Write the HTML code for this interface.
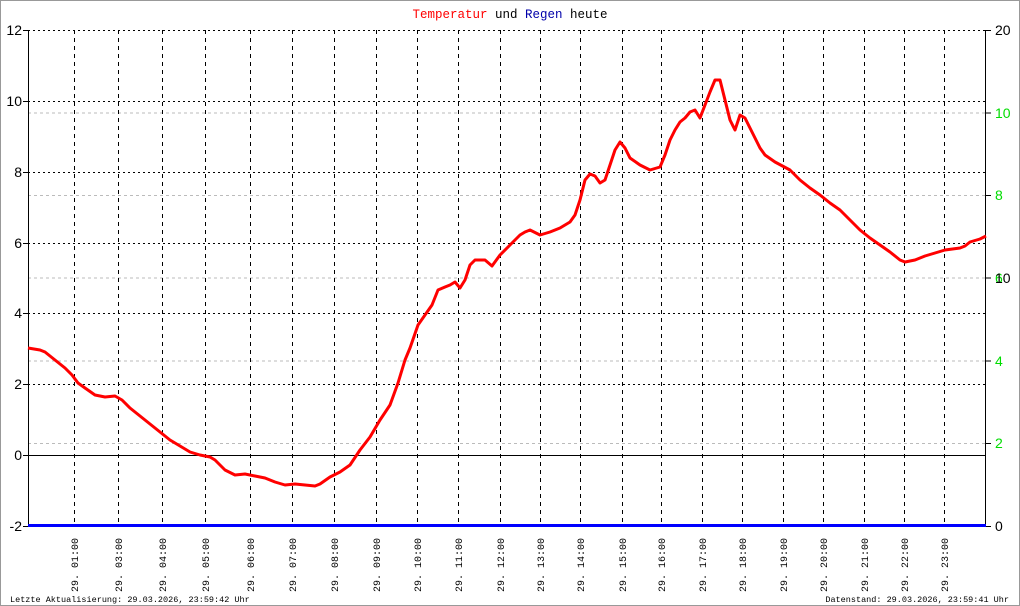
<!DOCTYPE html>
<html><head><meta charset="utf-8"><style>html,body{margin:0;padding:0;background:#fff}svg{display:block}</style></head>
<body>
<svg width="1020" height="606" xmlns="http://www.w3.org/2000/svg" font-family="Liberation Mono, monospace">
<rect x="0.5" y="0.5" width="1019" height="605" fill="#fff" stroke="#999"/>
<text x="510" y="18" text-anchor="middle" font-size="12.5"><tspan fill="#f00">Temperatur</tspan> und <tspan fill="#00a">Regen</tspan> heute</text>
<g stroke="#bbb" stroke-dasharray="3,3" stroke-width="1">
<line x1="28" x2="986" y1="113" y2="113"/><line x1="28" x2="986" y1="195.5" y2="195.5"/><line x1="28" x2="986" y1="278" y2="278"/><line x1="28" x2="986" y1="361" y2="361"/><line x1="28" x2="986" y1="443.5" y2="443.5"/>
</g>
<g stroke="#000" stroke-dasharray="2,3" stroke-width="1">
<line x1="28" x2="986" y1="30.5" y2="30.5"/><line x1="28" x2="986" y1="101.5" y2="101.5"/><line x1="28" x2="986" y1="172.5" y2="172.5"/><line x1="28" x2="986" y1="243.5" y2="243.5"/><line x1="28" x2="986" y1="313.5" y2="313.5"/><line x1="28" x2="986" y1="384.5" y2="384.5"/>
</g>
<g stroke="#000" stroke-dasharray="4,4" stroke-width="1">
<line x1="74.5" x2="74.5" y1="30" y2="526"/><line x1="118.5" x2="118.5" y1="30" y2="526"/><line x1="162.5" x2="162.5" y1="30" y2="526"/><line x1="205.5" x2="205.5" y1="30" y2="526"/><line x1="250.5" x2="250.5" y1="30" y2="526"/><line x1="292.5" x2="292.5" y1="30" y2="526"/><line x1="334.5" x2="334.5" y1="30" y2="526"/><line x1="376.5" x2="376.5" y1="30" y2="526"/><line x1="417.5" x2="417.5" y1="30" y2="526"/><line x1="458.5" x2="458.5" y1="30" y2="526"/><line x1="500.5" x2="500.5" y1="30" y2="526"/><line x1="540.5" x2="540.5" y1="30" y2="526"/><line x1="580.5" x2="580.5" y1="30" y2="526"/><line x1="622.5" x2="622.5" y1="30" y2="526"/><line x1="661.5" x2="661.5" y1="30" y2="526"/><line x1="702.5" x2="702.5" y1="30" y2="526"/><line x1="742.5" x2="742.5" y1="30" y2="526"/><line x1="783.5" x2="783.5" y1="30" y2="526"/><line x1="823.5" x2="823.5" y1="30" y2="526"/><line x1="864.5" x2="864.5" y1="30" y2="526"/><line x1="904.5" x2="904.5" y1="30" y2="526"/><line x1="944.5" x2="944.5" y1="30" y2="526"/>
</g>
<line x1="28" x2="986" y1="455.5" y2="455.5" stroke="#000"/>
<line x1="28.5" x2="28.5" y1="30" y2="527" stroke="#000"/>
<line x1="985.5" x2="985.5" y1="30" y2="527" stroke="#000"/>
<g stroke="#000">
<line x1="23" x2="28" y1="30.5" y2="30.5"/><line x1="23" x2="28" y1="101.5" y2="101.5"/><line x1="23" x2="28" y1="172.5" y2="172.5"/><line x1="23" x2="28" y1="243.5" y2="243.5"/><line x1="23" x2="28" y1="313.5" y2="313.5"/><line x1="23" x2="28" y1="384.5" y2="384.5"/><line x1="23" x2="28" y1="455.5" y2="455.5"/><line x1="23" x2="28" y1="526.5" y2="526.5"/>
<line x1="986" x2="991" y1="30.5" y2="30.5"/><line x1="986" x2="991" y1="113" y2="113"/><line x1="986" x2="991" y1="195.5" y2="195.5"/><line x1="986" x2="991" y1="278" y2="278"/><line x1="986" x2="991" y1="361" y2="361"/><line x1="986" x2="991" y1="443.5" y2="443.5"/><line x1="986" x2="991" y1="526.5" y2="526.5"/>
</g>
<g font-family="Liberation Sans, sans-serif" font-size="14" text-anchor="end">
<text x="22" y="35">12</text><text x="22" y="106">10</text><text x="22" y="177">8</text><text x="22" y="248">6</text><text x="22" y="318">4</text><text x="22" y="389">2</text><text x="22" y="460">0</text><text x="22" y="531">-2</text>
</g>
<g font-family="Liberation Sans, sans-serif" font-size="14" fill="#0d0">
<text x="995" y="118">10</text><text x="995" y="200">8</text><text x="995" y="283">6</text><text x="995" y="366">4</text><text x="995" y="448">2</text>
</g>
<g font-family="Liberation Sans, sans-serif" font-size="14">
<text x="995" y="35">20</text><text x="995" y="283">10</text><text x="995" y="531">0</text>
</g>
<line x1="28" x2="986" y1="525.5" y2="525.5" stroke="#0000ff" stroke-width="3"/>
<polyline fill="none" stroke="#f00" stroke-width="3" stroke-linejoin="round" points="28,348 40,350 45,352 55,360 65,368 72,375 78,383 85,388 95,395 105,397 115,396 122,400 130,408 140,416 150,424 160,432 170,440 180,446 190,452 200,455 210,457 215,460 225,470 235,475 245,474 255,476 265,478 275,482 285,485 295,484 305,485 315,486 320,484 330,477 340,472 350,465 360,450 370,437 380,420 390,405 398,383 405,360 410,348 418,325 425,315 432,305 438,290 445,287 450,285 455,282 460,288 465,280 470,265 475,260 485,260 492,266 500,255 510,245 520,235 525,232 530,230 540,235 550,232 560,228 570,222 575,215 580,200 585,180 590,174 595,176 600,183 605,180 610,165 615,150 620,142 625,148 630,158 640,165 650,170 660,167 665,155 670,140 675,130 680,122 685,118 690,112 695,110 700,118 705,105 710,92 715,80 720,80 725,100 730,120 735,130 740,115 745,118 750,128 755,138 760,148 765,155 775,162 790,170 800,180 810,188 820,195 830,203 840,210 850,220 860,230 870,238 880,245 890,252 900,260 905,262 915,260 925,256 935,253 945,250 960,248 965,246 970,242 980,239 986,236"/>
<g font-size="10" text-anchor="end">
<text transform="translate(78,538) rotate(-90)">29. 01:00</text>
<text transform="translate(122,538) rotate(-90)">29. 03:00</text>
<text transform="translate(166,538) rotate(-90)">29. 04:00</text>
<text transform="translate(209,538) rotate(-90)">29. 05:00</text>
<text transform="translate(254,538) rotate(-90)">29. 06:00</text>
<text transform="translate(296,538) rotate(-90)">29. 07:00</text>
<text transform="translate(338,538) rotate(-90)">29. 08:00</text>
<text transform="translate(380,538) rotate(-90)">29. 09:00</text>
<text transform="translate(421,538) rotate(-90)">29. 10:00</text>
<text transform="translate(462,538) rotate(-90)">29. 11:00</text>
<text transform="translate(504,538) rotate(-90)">29. 12:00</text>
<text transform="translate(544,538) rotate(-90)">29. 13:00</text>
<text transform="translate(584,538) rotate(-90)">29. 14:00</text>
<text transform="translate(626,538) rotate(-90)">29. 15:00</text>
<text transform="translate(665,538) rotate(-90)">29. 16:00</text>
<text transform="translate(706,538) rotate(-90)">29. 17:00</text>
<text transform="translate(746,538) rotate(-90)">29. 18:00</text>
<text transform="translate(787,538) rotate(-90)">29. 19:00</text>
<text transform="translate(827,538) rotate(-90)">29. 20:00</text>
<text transform="translate(868,538) rotate(-90)">29. 21:00</text>
<text transform="translate(908,538) rotate(-90)">29. 22:00</text>
<text transform="translate(948,538) rotate(-90)">29. 23:00</text>
</g>
<text x="10" y="602" font-size="8.5">Letzte Aktualisierung: 29.03.2026, 23:59:42 Uhr</text>
<text x="1009" y="602" font-size="8.5" text-anchor="end">Datenstand: 29.03.2026, 23:59:41 Uhr</text>
</svg>
</body></html>
